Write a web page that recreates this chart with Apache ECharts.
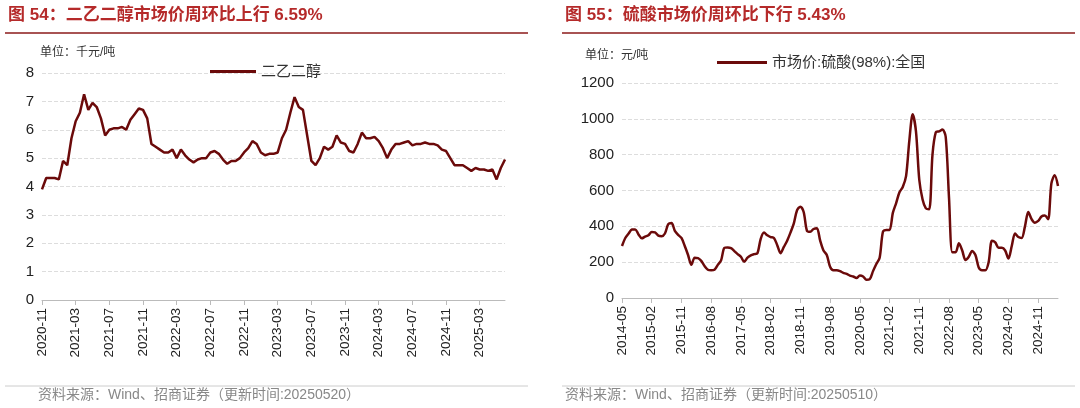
<!DOCTYPE html>
<html><head><meta charset="utf-8">
<script src="https://cdn.jsdelivr.net/npm/echarts@6/dist/echarts.min.js"></script>
<style>html,body{margin:0;padding:0;background:#fff}#c{width:1080px;height:408px}</style>
</head><body><div id="c"></div>
<script>
// 二乙二醇, semi-monthly from 2020-11
const degValues = [3.9,4.3,4.3,4.3,4.25,4.9,4.75,5.7,6.3,6.6,7.25,6.7,6.95,6.8,6.4,5.8,6.0,6.05,6.05,6.1,
  6.0,6.35,6.55,6.75,6.7,6.4,5.5,5.4,5.3,5.2,5.2,5.3,5.0,5.3,5.1,4.95,4.85,4.95,5.0,5.0,
  5.2,5.25,5.15,4.95,4.8,4.9,4.9,5.0,5.2,5.35,5.6,5.5,5.2,5.1,5.15,5.15,5.2,5.7,6.0,6.6,
  7.15,6.8,6.7,5.8,4.9,4.75,5.0,5.4,5.3,5.4,5.8,5.55,5.5,5.25,5.2,5.5,5.9,5.7,5.7,5.75,
  5.6,5.35,5.0,5.3,5.5,5.5,5.55,5.6,5.45,5.5,5.5,5.55,5.5,5.5,5.45,5.3,5.25,5.0,4.75,4.75,
  4.75,4.65,4.55,4.65,4.6,4.6,4.55,4.6,4.25,4.65,4.95];
// 硫酸(98%), monthly from 2014-05
const h2so4Values = [290,335,360,382,383,355,333,343,350,368,366,348,345,360,412,418,375,352,335,290,
  240,185,225,223,207,178,158,155,158,185,210,280,282,278,262,245,230,202,225,238,
  245,250,330,365,350,340,335,295,250,285,320,365,415,490,510,480,375,370,385,390,
  320,265,240,175,155,155,150,140,135,125,120,112,125,120,102,105,150,190,225,370,
  380,380,475,530,590,620,680,880,1025,930,660,550,500,495,800,925,930,940,900,560,
  255,255,305,265,212,230,262,240,170,155,155,200,320,310,280,280,265,220,290,360,
  340,335,400,480,440,420,430,455,460,440,640,685,625];

function pad(n){return (n<10?'0':'')+n;}
const degDates = degValues.map((v,i)=>{let m=10+Math.floor(i/2);return (2020+Math.floor(m/12))+'-'+pad(m%12+1);});
const h2so4Dates = h2so4Values.map((v,i)=>{let m=4+i;return (2014+Math.floor(m/12))+'-'+pad(m%12+1);});

const red = '#6b0a0a';
const titleColor = '#b52a2a';
const font = 'Arial, "Noto Sans CJK SC", sans-serif';

function xAxis(idx, cats, interval){
  return {type:'category', gridIndex:idx, data:cats, boundaryGap:false,
    axisLine:{lineStyle:{color:'#bbb'}}, axisTick:{alignWithLabel:true, interval:interval, lineStyle:{color:'#bbb'}},
    axisLabel:{interval:interval, rotate:90, color:'#222', fontSize:13.5, fontFamily:font, margin:8}};
}
function yAxis(idx, max, step){
  return {type:'value', gridIndex:idx, min:0, max:max, interval:step,
    axisLine:{show:false}, axisTick:{show:false},
    axisLabel:{color:'#222', fontSize:15, fontFamily:font, formatter:function(v){return String(v);}},
    splitLine:{lineStyle:{type:'dashed', color:'#ddd'}}};
}

var myChart = echarts.init(document.getElementById('c'), null, {renderer:'canvas'});
var option = {
  backgroundColor:'#fff',
  animation:false,
  grid:[{left:42, right:575, top:73, bottom:108},
        {left:622, right:22, top:83, bottom:110}],
  xAxis:[xAxis(0, degDates, 7), xAxis(1, h2so4Dates, 8)],
  yAxis:[yAxis(0, 8, 1), yAxis(1, 1200, 200)],
  legend:[
    {data:['二乙二醇'], left:205, top:59, itemWidth:46, itemHeight:3, icon:'rect',
     textStyle:{fontSize:15, color:'#333', fontFamily:font}},
    {data:['市场价:硫酸(98%):全国'], left:712, top:50, itemWidth:50, itemHeight:3, icon:'rect',
     textStyle:{fontSize:15, color:'#333', fontFamily:font}}
  ],
  series:[
    {name:'二乙二醇', type:'line', xAxisIndex:0, yAxisIndex:0, data:degValues, showSymbol:false,
     lineStyle:{color:red, width:2.5}, itemStyle:{color:red}},
    {name:'市场价:硫酸(98%):全国', type:'line', xAxisIndex:1, yAxisIndex:1, data:h2so4Values, showSymbol:false, smooth:0.3,
     lineStyle:{color:red, width:2.5}, itemStyle:{color:red}}
  ],
  graphic:[
    {type:'text', left:8, top:7, style:{text:'图 54：二乙二醇市场价周环比上行 6.59%', fill:titleColor, font:'bold 17px '+font}},
    {type:'text', left:565, top:7, style:{text:'图 55：硫酸市场价周环比下行 5.43%', fill:titleColor, font:'bold 17px '+font}},
    {type:'line', shape:{x1:5, y1:33, x2:528, y2:33}, style:{stroke:'#8b1a1a', lineWidth:1.5}},
    {type:'line', shape:{x1:562, y1:33, x2:1075, y2:33}, style:{stroke:'#8b1a1a', lineWidth:1.5}},
    {type:'text', left:40, top:47, style:{text:'单位：千元/吨', fill:'#333', font:'12px '+font}},
    {type:'text', left:585, top:50, style:{text:'单位：元/吨', fill:'#333', font:'12px '+font}},
    {type:'line', shape:{x1:5, y1:386, x2:528, y2:386}, style:{stroke:'#ccc', lineWidth:1}},
    {type:'line', shape:{x1:562, y1:386, x2:1075, y2:386}, style:{stroke:'#ccc', lineWidth:1}},
    {type:'text', left:38, top:388, style:{text:'资料来源：Wind、招商证券（更新时间:20250520）', fill:'#888', font:'14px '+font}},
    {type:'text', left:565, top:388, style:{text:'资料来源：Wind、招商证券（更新时间:20250510）', fill:'#888', font:'14px '+font}}
  ]
};
myChart.setOption(option);
window.addEventListener('resize', myChart.resize);
</script></body></html>
